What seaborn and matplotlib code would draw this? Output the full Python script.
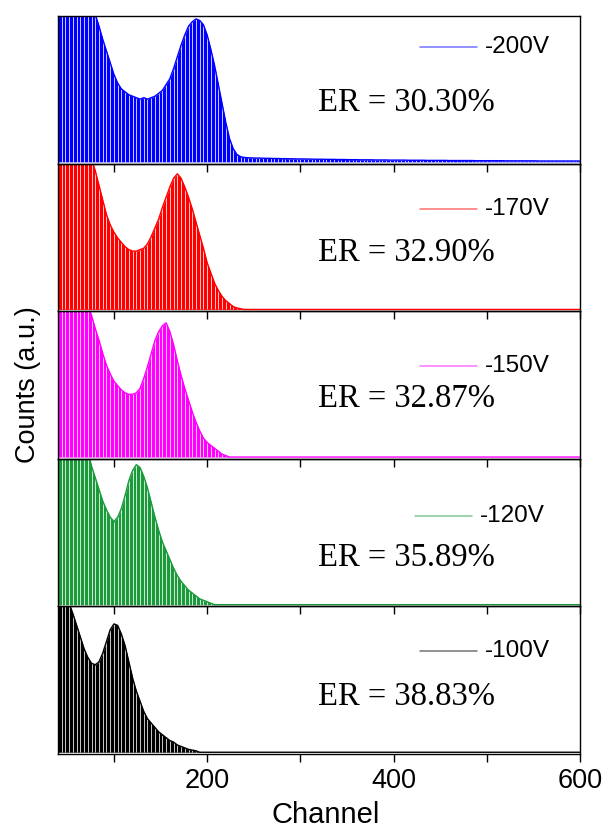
import numpy as np
import pandas as pd
import matplotlib
matplotlib.use("Agg")
import matplotlib.pyplot as plt
import seaborn as sns

# ---------------- data ----------------
channel = np.arange(40, 601, 4)

labels = ["-200V", "-170V", "-150V", "-120V", "-100V"]
er_labels = ["ER = 30.30%", "ER = 32.90%", "ER = 32.87%", "ER = 35.89%", "ER = 38.83%"]
colors = ["#0000ff", "#ff0000", "#ff00ff", "#1b9a3c", "#000000"]

counts_200 = [1.9, 1.8, 1.7, 1.6, 1.5, 1.4, 1.3, 1.2, 1.12, 1.06, 1.01,
              0.93, 0.84, 0.76, 0.68, 0.60, 0.54, 0.50, 0.48, 0.46, 0.45,
              0.44, 0.43, 0.44, 0.43, 0.44, 0.45, 0.47, 0.49, 0.53, 0.57,
              0.64, 0.72, 0.80, 0.87, 0.93, 0.96, 0.98, 0.97, 0.94, 0.87,
              0.77, 0.66, 0.53, 0.40, 0.27, 0.16, 0.09, 0.05, 0.035, 0.03,
              0.028, 0.027, 0.026, 0.026, 0.025, 0.024, 0.024, 0.023, 0.023, 0.022,
              0.022, 0.021, 0.021, 0.020, 0.020, 0.020, 0.019, 0.019, 0.018, 0.018,
              0.018, 0.017, 0.017, 0.017, 0.016, 0.016, 0.016, 0.015, 0.015, 0.015,
              0.014, 0.014, 0.014, 0.014, 0.013, 0.013, 0.013, 0.013, 0.012, 0.012,
              0.012, 0.012, 0.012, 0.011, 0.011, 0.011, 0.011, 0.011, 0.010, 0.010,
              0.010, 0.010, 0.010, 0.010, 0.009, 0.009, 0.009, 0.009, 0.009, 0.009,
              0.009, 0.008, 0.008, 0.008, 0.008, 0.008, 0.008, 0.008, 0.008, 0.007,
              0.007, 0.007, 0.007, 0.007, 0.007, 0.007, 0.007, 0.007, 0.006, 0.006,
              0.006, 0.006, 0.006, 0.006, 0.006, 0.006, 0.006, 0.006, 0.006, 0.006]

counts_170 = [1.9, 1.8, 1.7, 1.6, 1.5, 1.4, 1.3, 1.2, 1.1, 1.03,
              0.95, 0.85, 0.75, 0.65, 0.58, 0.53, 0.49, 0.46, 0.43, 0.41,
              0.40, 0.40, 0.41, 0.42, 0.45, 0.50, 0.56, 0.62, 0.70, 0.77,
              0.84, 0.90, 0.93, 0.90, 0.84, 0.77, 0.69, 0.60, 0.51, 0.42,
              0.32, 0.25, 0.18, 0.13, 0.09, 0.06, 0.04, 0.02, 0.01, 0.005]

counts_150 = [1.9, 1.8, 1.7, 1.55, 1.45, 1.35, 1.25, 1.15, 1.05,
              0.97, 0.88, 0.80, 0.71, 0.63, 0.57, 0.52, 0.49, 0.46, 0.44,
              0.43, 0.43, 0.44, 0.47, 0.54, 0.62, 0.71, 0.80, 0.86, 0.90,
              0.92, 0.86, 0.77, 0.66, 0.56, 0.47, 0.39, 0.31, 0.24, 0.18,
              0.13, 0.10, 0.08, 0.06, 0.04, 0.02, 0.01]

counts_120 = [1.9, 1.8, 1.7, 1.55, 1.45, 1.35, 1.25, 1.15, 1.05,
              0.95, 0.87, 0.79, 0.71, 0.65, 0.60, 0.57, 0.60, 0.66, 0.75,
              0.85, 0.92, 0.96, 0.94, 0.88, 0.80, 0.70, 0.60, 0.51, 0.43,
              0.37, 0.31, 0.25, 0.20, 0.16, 0.13, 0.10, 0.08, 0.06, 0.04,
              0.03, 0.02, 0.01]

counts_100 = [1.6, 1.4, 1.2, 1.02,
              0.95, 0.87, 0.79, 0.71, 0.65, 0.61, 0.60, 0.62, 0.68, 0.76,
              0.84, 0.88, 0.87, 0.81, 0.73, 0.62, 0.51, 0.42, 0.35, 0.28,
              0.23, 0.20, 0.17, 0.14, 0.12, 0.10, 0.08, 0.07, 0.05, 0.04,
              0.03, 0.02, 0.015, 0.01]

series = [counts_200, counts_170, counts_150, counts_120, counts_100]

# ---------------- layout / style ----------------
legend_y = [0.79, 0.69, 0.63, 0.615, 0.70]
legend_dx = [0.0, 0.0, 0.0, -0.009, 0.0]
er_y = [0.41, 0.395, 0.41, 0.33, 0.385]

sns.set_style("ticks")
plt.rcParams["font.family"] = ["Liberation Sans", "DejaVu Sans"]
plt.rcParams["axes.linewidth"] = 1.0
plt.rcParams["text.color"] = "black"
plt.rcParams["xtick.color"] = "black"
plt.rcParams["xtick.labelcolor"] = "black"

fig, axes = plt.subplots(5, 1, figsize=(6.03, 8.32), dpi=100, sharex=True)
fig.subplots_adjust(left=58 / 603, right=580 / 603, top=1 - 16 / 832,
                    bottom=1 - 754 / 832, hspace=0)

for i, ax in enumerate(axes):
    vals = np.zeros(len(channel))
    vals[:len(series[i])] = series[i]
    df = pd.DataFrame({"channel": channel, "counts": vals})
    c = colors[i]
    # filled spectrum
    sns.histplot(data=df, x="channel", weights="counts", binwidth=4,
                 binrange=(38, 602), element="poly",
                 fill=True, color=c, linewidth=0, alpha=1.0, ax=ax)
    # white column stripes
    ax.vlines(df["channel"], 0, np.minimum(df["counts"], 1.0), color="white",
              linewidth=0.55, zorder=3)
    # outline
    sns.lineplot(data=df, x="channel", y="counts", color=c, linewidth=1.0,
                 ax=ax, zorder=4)
    ax.set_xlim(40, 600)
    ax.set_ylim(-0.012, 1.0)
    ax.set_yticks([])
    ax.set_ylabel("")
    ax.set_xlabel("")
    ax.set_facecolor("none")
    ax.set_zorder(10 - i)
    for s in ax.spines.values():
        s.set_visible(True)
        s.set_color("black")
        s.set_linewidth(1.0)
        s.set_zorder(5)
    ax.set_xticks([200, 400, 600])
    ax.set_xticks([100, 300, 500], minor=True)
    ax.tick_params(axis="x", which="both", direction="out", length=6, width=1,
                   color="black", labelcolor="black", labelsize=19.5, pad=4,
                   labelbottom=(i == 4))
    # legend-like entry
    dx = legend_dx[i]
    ax.plot([0.693 + dx, 0.803 + dx], [legend_y[i], legend_y[i]],
            transform=ax.transAxes, color=c, lw=1.1, alpha=0.55, clip_on=False)
    ax.text(0.818 + dx, legend_y[i], labels[i], transform=ax.transAxes,
            ha="left", va="center", fontsize=17.5, color="black")
    ax.text(0.498, er_y[i], er_labels[i], transform=ax.transAxes,
            ha="left", va="center", fontsize=23.5,
            family=["Liberation Serif", "DejaVu Serif"], color="black")

fig.text(326 / 603, 1 - 815 / 832, "Channel", ha="center", va="center",
         fontsize=21, color="black")
fig.text(28 / 603, 1 - 385 / 832, "Counts (a.u.)", ha="center", va="center",
         rotation=90, fontsize=19.5, color="black")

fig.savefig("out.png", dpi=100)
